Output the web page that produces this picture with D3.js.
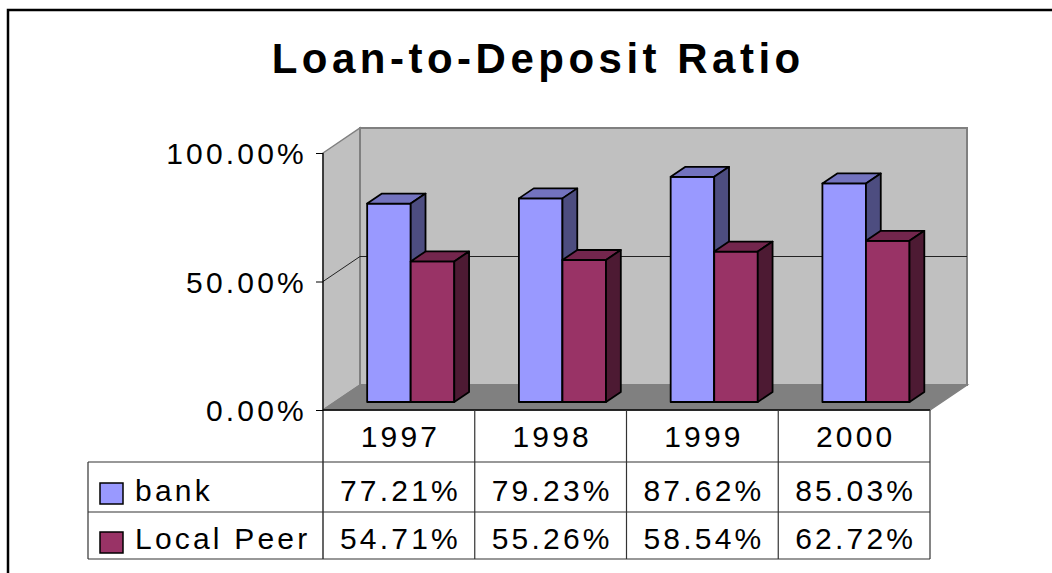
<!DOCTYPE html>
<html><head><meta charset="utf-8">
<script src="https://cdn.jsdelivr.net/npm/d3@7"></script>
<style>
html,body{margin:0;padding:0;background:#fff;overflow:hidden}
text{font-family:Arial,"Liberation Sans",sans-serif}
</style></head>
<body>
<svg id="chart" width="1052" height="573"></svg>
<script>
// ---- data ----
const title = "Loan-to-Deposit Ratio";
const categories = ["1997", "1998", "1999", "2000"];
const seriesNames = ["bank", "Local Peer"];
const bankValues = [0.7721, 0.7923, 0.8762, 0.8503];
const peerValues = [0.5471, 0.5526, 0.5854, 0.6272];
const yTicks = [0, 0.5, 1];
const seriesColors = ["#9999FF", "#993366"];

// ---- layout ----
const svg = d3.select("#chart");
const frontLeft = 323, frontRight = 930, floorY = 410, topY = 153;
const depthDX = 37, depthDY = -25;       // full depth of the 3D box
const barF0 = 0.32, barF1 = 0.72;        // bar depth range (fraction of box depth)
const barFrac = 0.287;                   // bar width as fraction of band
const fs = 30, ls = 3.2;                 // text size / letter spacing

const x = d3.scaleBand().domain(categories).range([frontLeft, frontRight]).paddingInner(0).paddingOuter(0);
const y = d3.scaleLinear().domain([0, 1]).range([floorY, topY]);
const shade = (c, k) => { const o = d3.rgb(c); return d3.rgb(o.r * k, o.g * k, o.b * k).formatHex(); };

// outer frame
svg.append("rect").attr("x", 8).attr("y", 10).attr("width", 1200).attr("height", 800)
  .attr("fill", "none").attr("stroke", "#000").attr("stroke-width", 2.5);

// title
svg.append("text").attr("x", 536 + 2.2).attr("y", 73).attr("text-anchor", "middle")
  .attr("font-size", 42).attr("font-weight", "bold").style("letter-spacing", "4.5px")
  .text(title);

// walls
const bx0 = frontLeft + depthDX, bx1 = frontRight + depthDX;
const yb = v => y(v) + depthDY;
svg.append("polygon")
  .attr("points", [[frontLeft, y(1)], [bx0, yb(1)], [bx0, yb(0)], [frontLeft, y(0)]].map(p => p.join(",")).join(" "))
  .attr("fill", "#c0c0c0").attr("stroke", "#808080").attr("stroke-width", 1.5);
svg.append("rect").attr("x", bx0).attr("y", yb(1)).attr("width", bx1 - bx0).attr("height", yb(0) - yb(1))
  .attr("fill", "#c0c0c0").attr("stroke", "#808080").attr("stroke-width", 2);
svg.append("polygon")
  .attr("points", [[frontLeft, y(0)], [frontRight, y(0)], [bx1, yb(0)], [bx0, yb(0)]].map(p => p.join(",")).join(" "))
  .attr("fill", "#808080").attr("stroke", "#808080").attr("stroke-width", 1.5);

// gridlines
yTicks.filter(t => t > 0 && t < 1).forEach(t => {
  svg.append("polyline")
    .attr("points", [[frontLeft, y(t)], [bx0, yb(t)], [bx1, yb(t)]].map(p => p.join(",")).join(" "))
    .attr("fill", "none").attr("stroke", "#222").attr("stroke-width", 1);
});

// bars
function drawBar(x0, w, v, color) {
  const f0x = depthDX * barF0, f0y = depthDY * barF0;
  const dx = depthDX * (barF1 - barF0), dy = depthDY * (barF1 - barF0);
  const X0 = x0 + f0x, X1 = x0 + w + f0x;
  const Yt = y(v) + f0y, Yb = y(0) + f0y;
  const g = svg.append("g").attr("stroke", "#000").attr("stroke-width", 1.8).attr("stroke-linejoin", "round");
  g.append("polygon").attr("points", [[X0, Yb], [X1, Yb], [X1, Yt], [X0, Yt]].map(p => p.join(",")).join(" "))
    .attr("fill", color);
  g.append("polygon").attr("points", [[X0, Yt], [X1, Yt], [X1 + dx, Yt + dy], [X0 + dx, Yt + dy]].map(p => p.join(",")).join(" "))
    .attr("fill", shade(color, 0.75));
  g.append("polygon").attr("points", [[X1, Yb], [X1 + dx, Yb + dy], [X1 + dx, Yt + dy], [X1, Yt]].map(p => p.join(",")).join(" "))
    .attr("fill", shade(color, 0.5));
}
categories.forEach((c, i) => {
  const cx = x(c) + x.bandwidth() / 2;
  const w = x.bandwidth() * barFrac;
  drawBar(cx - w, w, bankValues[i], seriesColors[0]);
  drawBar(cx, w, peerValues[i], seriesColors[1]);
});

// y axis
const axis = d3.axisLeft(y).tickValues(yTicks).tickFormat(d3.format(".2%")).tickSize(7).tickPadding(9);
const ag = svg.append("g").attr("transform", `translate(${frontLeft},0)`).call(axis);
ag.select(".domain").remove();
ag.selectAll(".tick line").attr("stroke", "#000");
ag.selectAll(".tick text").attr("font-size", fs).attr("font-family", "Arial, 'Liberation Sans', sans-serif")
  .attr("fill", "#000").attr("dy", "0.36em").style("letter-spacing", ls + "px");

// data table
const rowY = [410, 462, 512, 559];
const legendLeft = 88;
const tableLine = "#333";
svg.append("line").attr("x1", frontLeft).attr("x2", frontLeft).attr("y1", y(1)).attr("y2", rowY[3])
  .attr("stroke", "#000").attr("stroke-width", 1.2);
svg.append("line").attr("x1", frontLeft).attr("x2", frontRight).attr("y1", rowY[0]).attr("y2", rowY[0])
  .attr("stroke", "#000").attr("stroke-width", 1.5);
[1, 2, 3].forEach(r => svg.append("line").attr("x1", legendLeft).attr("x2", frontRight)
  .attr("y1", rowY[r]).attr("y2", rowY[r]).attr("stroke", tableLine).attr("stroke-width", 1.2));
categories.forEach(c => svg.append("line").attr("x1", x(c) + x.bandwidth()).attr("x2", x(c) + x.bandwidth())
  .attr("y1", rowY[0]).attr("y2", rowY[3]).attr("stroke", tableLine).attr("stroke-width", 1.2));
svg.append("line").attr("x1", legendLeft).attr("x2", legendLeft).attr("y1", rowY[1]).attr("y2", rowY[3])
  .attr("stroke", tableLine).attr("stroke-width", 1.2);

const textBase = [447, 501, 549];
const fmt = d3.format(".2%");
const cellText = (tx, ty, s, anchor) => svg.append("text").attr("x", tx).attr("y", ty)
  .attr("text-anchor", anchor).attr("font-size", fs).style("letter-spacing", ls + "px").text(s);
categories.forEach((c, i) => {
  const cx = x(c) + x.bandwidth() / 2 + ls / 2;
  cellText(cx, textBase[0], c, "middle");
  cellText(cx, textBase[1], fmt(bankValues[i]), "middle");
  cellText(cx, textBase[2], fmt(peerValues[i]), "middle");
});
// legend in table
const swatchY = [483, 532];
seriesNames.forEach((n, i) => {
  svg.append("rect").attr("x", 100).attr("y", swatchY[i]).attr("width", 23).attr("height", 21)
    .attr("fill", seriesColors[i]).attr("stroke", "#000").attr("stroke-width", 1.5);
  cellText(135, textBase[i + 1], n, "start");
});
</script>
</body></html>
